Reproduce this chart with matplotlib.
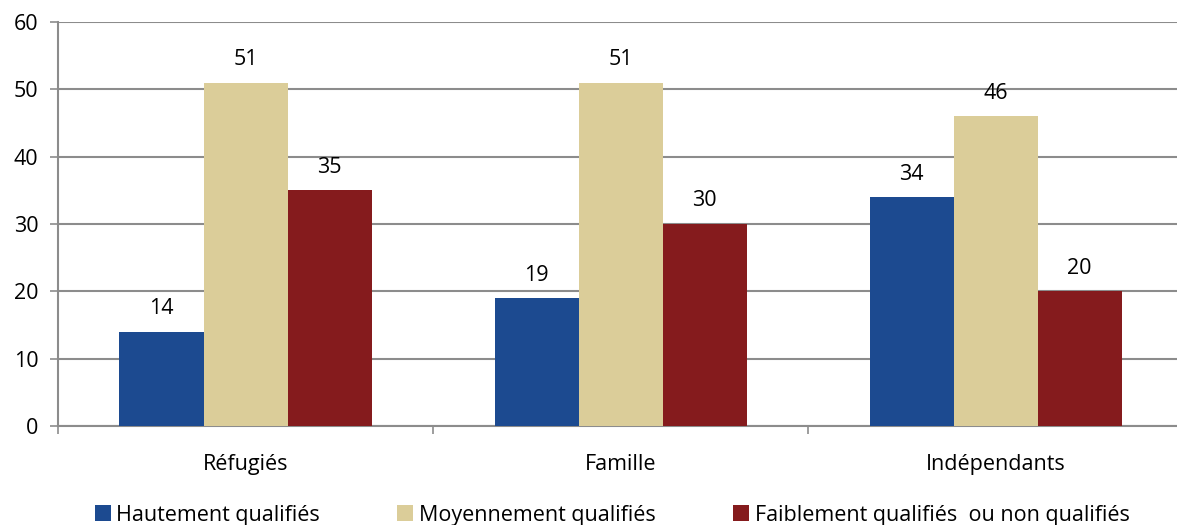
import matplotlib.pyplot as plt
import numpy as np

categories = ["Réfugiés", "Famille", "Indépendants"]
series_names = ["Hautement qualifiés", "Moyennement qualifiés", "Faiblement qualifiés  ou non qualifiés"]
hautement = [14, 19, 34]
moyennement = [51, 51, 46]
faiblement = [35, 30, 20]
colors = ["#1C4A90", "#DBCD99", "#851B1D"]

plt.rcParams['font.family'] = ['Open Sans', 'DejaVu Sans']
fs = 15.5

fig = plt.figure(figsize=(11.77, 5.25), dpi=100)
ax = fig.add_axes([58 / 1177, 99 / 525, 1125 / 1177, 404 / 525])

x = np.arange(len(categories))
width = 0.224
values = [hautement, moyennement, faiblement]
for i, (vals, name, col) in enumerate(zip(values, series_names, colors)):
	pos = x + (i - 1) * width
	bars = ax.bar(pos, vals, width, color=col, label=name, zorder=3)
	for b, v in zip(bars, vals):
		ax.annotate(str(v), (b.get_x() + b.get_width() / 2, v), xytext=(0, 9),
			textcoords="offset points", ha="center", va="bottom", fontsize=fs)

ax.set_xlim(-0.5, 2.5)
ax.set_ylim(0, 60)
ax.set_yticks(range(0, 61, 10))
ax.yaxis.grid(True, color="#8C8C8C", linewidth=1.5, zorder=0)
ax.set_axisbelow(True)

ax.set_xticks([-0.5, 0.5, 1.5, 2.5])
ax.set_xticklabels([])
ax.set_xticks(x, minor=True)
ax.set_xticklabels(categories, minor=True, fontsize=fs)
ax.tick_params(axis="x", which="minor", length=0, pad=20)
ax.tick_params(axis="x", which="major", length=6, width=1.2, color="#8C8C8C")
ax.tick_params(axis="y", length=6, width=1.2, color="#8C8C8C", labelsize=fs, pad=8)

for s in ["top", "right"]:
	ax.spines[s].set_visible(False)
for s in ["left", "bottom"]:
	ax.spines[s].set_color("#8C8C8C")
	ax.spines[s].set_linewidth(1.5)

fig.legend(loc="lower center", bbox_to_anchor=(0.52, -0.038), ncol=3, frameon=False,
	fontsize=fs, handlelength=0.75, handleheight=0.75, handletextpad=0.25, columnspacing=3.6)

plt.savefig("out.png", dpi=100)
